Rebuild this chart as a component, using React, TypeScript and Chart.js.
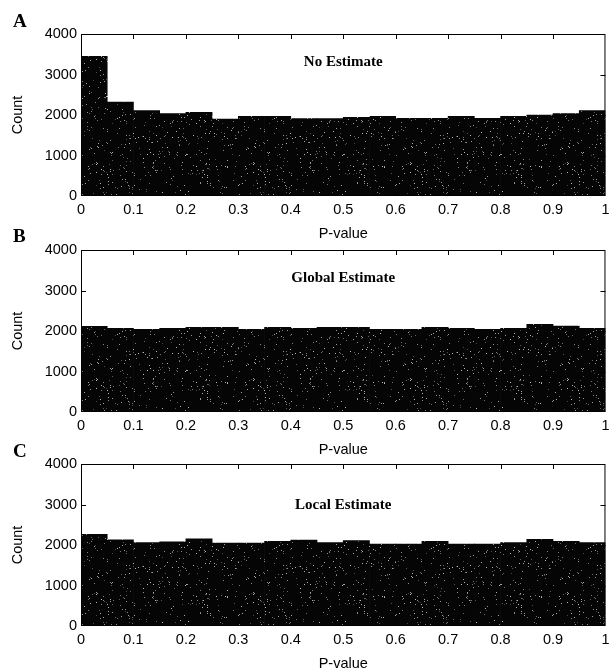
import { useEffect, useRef } from 'react';
import { Chart, registerables } from 'chart.js';

Chart.register(...registerables);

// ---- data ----
const binCenters = [
  0.025, 0.075, 0.125, 0.175, 0.225, 0.275, 0.325, 0.375, 0.425, 0.475,
  0.525, 0.575, 0.625, 0.675, 0.725, 0.775, 0.825, 0.875, 0.925, 0.975,
];
const noEstimateCounts = [
  3450, 2320, 2110, 2035, 2065, 1900, 1965, 1965, 1910, 1910,
  1940, 1965, 1920, 1920, 1965, 1915, 1965, 2000, 2035, 2110,
];
const globalEstimateCounts = [
  2115, 2065, 2040, 2065, 2090, 2090, 2040, 2090, 2065, 2090,
  2090, 2040, 2040, 2090, 2065, 2040, 2065, 2165, 2120, 2065,
];
const localEstimateCounts = [
  2265, 2130, 2060, 2080, 2150, 2050, 2050, 2090, 2120, 2060,
  2110, 2025, 2025, 2090, 2025, 2025, 2060, 2140, 2090, 2060,
];
const panelLetters = ['A', 'B', 'C'];
const panelTitles = ['No Estimate', 'Global Estimate', 'Local Estimate'];
const xAxisLabel = 'P-value';
const yAxisLabel = 'Count';

// ---- layout ----
const CANVAS_W = 615;
const CANVAS_H = 250;
const PAGE_H = 671;
const PANEL_TOPS = [0, 216, 430];
const PLOT_TOP = 34;
const PLOT_BOTTOM = 196;
const PLOT_LEFT = 81;
const PLOT_RIGHT = 611;
const TITLE_LEVELS = [3300, 3300, 2980];
const LETTER_BASELINES = [27, 26, 27];
const FONT_SIZE = 14.5;

const SANS = '"Liberation Sans", Arial, sans-serif';
const SERIF = '"Liberation Serif", "Times New Roman", serif';

function makeSpeckle(): CanvasPattern | string {
  const w = 157;
  const h = 113;
  const c = document.createElement('canvas');
  c.width = w;
  c.height = h;
  const g = c.getContext('2d');
  if (!g) return '#080808';
  g.fillStyle = '#050505';
  g.fillRect(0, 0, w, h);
  let s = 987654321;
  const next = () => {
    s = (s * 1103515245 + 12345) % 2147483648;
    return Math.floor(s / 65536);
  };
  for (let i = 0; i < 520; i++) {
    const x = next() % w;
    const y = next() % h;
    const v = 70 + (next() % 120);
    g.fillStyle = `rgb(${v},${v},${v})`;
    g.fillRect(x, y, 1, 1);
  }
  return g.createPattern(c, 'repeat') || '#080808';
}

function Panel({ index, counts }: { index: number; counts: number[] }) {
  const ref = useRef<HTMLCanvasElement | null>(null);

  useEffect(() => {
    const canvas = ref.current;
    if (!canvas) return;
    const fill = makeSpeckle();

    const framePlugin = {
      id: 'frameAndTicks',
      afterDatasetsDraw(chart: any) {
        const { ctx, chartArea } = chart;
        const { left, right, top, bottom } = chartArea;
        const xs = chart.scales.x;
        const ys = chart.scales.y;
        ctx.save();
        ctx.strokeStyle = '#000';
        ctx.lineWidth = 1;
        ctx.strokeRect(left + 0.5, top + 0.5, right - left - 1, bottom - top - 1);
        const tl = 5;
        ctx.beginPath();
        xs.ticks.forEach((t: any) => {
          const px = Math.round(xs.getPixelForValue(t.value)) + 0.5;
          if (px <= left + 1 || px >= right - 1) return;
          ctx.moveTo(px, top);
          ctx.lineTo(px, top + tl);
          ctx.moveTo(px, bottom);
          ctx.lineTo(px, bottom - tl);
        });
        ys.ticks.forEach((t: any) => {
          const py = Math.round(ys.getPixelForValue(t.value)) + 0.5;
          if (py <= top + 1 || py >= bottom - 1) return;
          ctx.moveTo(left, py);
          ctx.lineTo(left + tl, py);
          ctx.moveTo(right, py);
          ctx.lineTo(right - tl, py);
        });
        ctx.stroke();

        // panel title inside plot
        ctx.fillStyle = '#000';
        ctx.font = `bold 15px ${SERIF}`;
        ctx.textAlign = 'center';
        ctx.textBaseline = 'middle';
        ctx.fillText(
          panelTitles[index],
          xs.getPixelForValue(0.5),
          ys.getPixelForValue(TITLE_LEVELS[index])
        );

        // panel letter
        ctx.font = `bold 19px ${SERIF}`;
        ctx.textAlign = 'left';
        ctx.textBaseline = 'alphabetic';
        ctx.fillText(panelLetters[index], 13, LETTER_BASELINES[index]);
        ctx.restore();
      },
    };

    const chart = new Chart(canvas, {
      type: 'bar',
      data: {
        datasets: [
          {
            data: binCenters.map((x, i) => ({ x, y: counts[i] })),
            backgroundColor: fill as any,
            borderWidth: 0,
            categoryPercentage: 1,
            barPercentage: 1,
          },
        ],
      },
      options: {
        animation: false,
        responsive: false,
        maintainAspectRatio: false,
        events: [],
        layout: { padding: { top: PLOT_TOP, right: CANVAS_W - PLOT_RIGHT, left: 0, bottom: 0 } },
        plugins: {
          legend: { display: false },
          tooltip: { enabled: false },
          title: { display: false },
        },
        scales: {
          x: {
            type: 'linear',
            min: 0,
            max: 1,
            offset: false,
            grid: { display: false, drawTicks: false, offset: false },
            border: { display: false },
            ticks: {
              stepSize: 0.1,
              color: '#000',
              padding: 5.5,
              maxRotation: 0,
              font: { family: SANS, size: FONT_SIZE },
              callback: (v: any) => String(Math.round(Number(v) * 10) / 10),
            },
            title: {
              display: true,
              text: xAxisLabel,
              color: '#000',
              font: { family: SANS, size: FONT_SIZE },
              padding: { top: 0, bottom: 7 },
            },
            afterFit: (s: any) => {
              s.height = CANVAS_H - PLOT_BOTTOM;
            },
          },
          y: {
            type: 'linear',
            min: 0,
            max: 4000,
            grid: { display: false, drawTicks: false },
            border: { display: false },
            ticks: {
              stepSize: 1000,
              color: '#000',
              padding: 4,
              font: { family: SANS, size: FONT_SIZE },
              callback: (v: any) => String(v),
            },
            title: {
              display: true,
              text: yAxisLabel,
              color: '#000',
              font: { family: SANS, size: FONT_SIZE },
              padding: { top: 9, bottom: 0 },
            },
            afterFit: (s: any) => {
              s.width = PLOT_LEFT;
            },
          },
        },
      },
      plugins: [framePlugin],
    });
    return () => chart.destroy();
  }, [index, counts]);

  return (
    <canvas
      ref={ref}
      width={CANVAS_W}
      height={CANVAS_H}
      style={{
        position: 'absolute',
        left: 0,
        top: PANEL_TOPS[index],
        width: CANVAS_W,
        height: CANVAS_H,
      }}
    />
  );
}

export default function App() {
  useEffect(() => {
    document.body.style.margin = '0';
    document.body.style.background = '#fff';
    document.body.style.overflow = 'hidden';
  }, []);
  const series = [noEstimateCounts, globalEstimateCounts, localEstimateCounts];
  return (
    <div
      style={{
        position: 'relative',
        width: CANVAS_W,
        height: PAGE_H,
        overflow: 'hidden',
        background: '#fff',
      }}
    >
      {series.map((c, i) => (
        <Panel key={i} index={i} counts={c} />
      ))}
    </div>
  );
}
